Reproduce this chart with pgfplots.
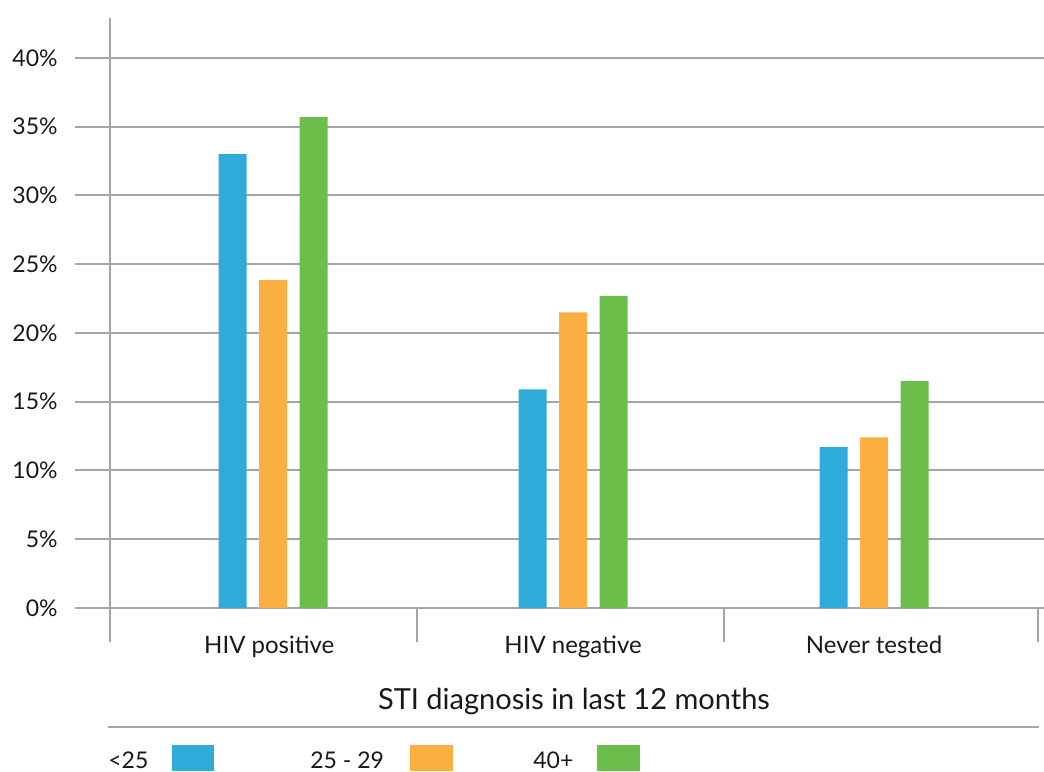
\documentclass[border=0pt]{standalone}
\usepackage{pgfplots}
\pgfplotsset{compat=1.18}
\usepackage{fontspec}
\setmainfont{Lato}

\definecolor{cblue}{RGB}{46,171,216}
\definecolor{corange}{RGB}{251,175,64}
\definecolor{cgreen}{RGB}{108,190,75}
\definecolor{cgrid}{RGB}{165,165,165}
\definecolor{ctext}{RGB}{25,25,25}

\begin{document}
\begin{tikzpicture}[font=\color{ctext}]
% page frame, 1044x771 px at 2 px per pt
\path[use as bounding box] (-55pt,-81.5pt) rectangle (467pt,304pt);

\begin{axis}[
    at={(0pt,0pt)}, anchor=south west,
    width=464pt, height=295pt, scale only axis,
    xmin=-0.5, xmax=2.5,
    ymin=0, ymax=42.909,
    clip=false,
    axis line style={draw=none},
    major tick style={draw=none},
    ybar=6.25pt, bar width=14pt,
    ymajorgrids, grid style={cgrid, line width=1pt},
    ytick={0,5,...,40},
    yticklabel={\pgfmathprintnumber{\tick}\%},
    /pgf/number format/assume math mode=true,
    yticklabel style={anchor=east, inner sep=0pt, xshift=-26pt, font=\fontsize{11.5}{13}\selectfont\color{ctext}},
    xtick={0.015,0.997,1.97},
    xticklabels={HIV positive, HIV negative, Never tested},
    xticklabel style={anchor=base, inner sep=0pt, yshift=-18.5pt, font=\fontsize{12}{14}\selectfont\color{ctext}},
    xlabel={STI diagnosis in last 12 months},
    xlabel style={at={(axis description cs:0.5,0)}, anchor=base, inner sep=0pt, yshift=-50.5pt, font=\fontsize{14.5}{17}\selectfont\color{ctext}},
]
\addplot[draw=none, fill=cblue] coordinates {(0.027,33.0) (0.997,15.9) (1.97,11.7)};
\addplot[draw=none, fill=corange] coordinates {(0.027,23.85) (0.997,21.5) (1.97,12.4)};
\addplot[draw=none, fill=cgreen] coordinates {(0.027,35.7) (0.997,22.7) (1.97,16.5)};
\end{axis}

% grid line stubs outside the axis box
\foreach \v in {0,5,...,40}{
  \draw[cgrid, line width=1pt] (-17.5pt,\v*6.875pt) -- (0pt,\v*6.875pt);
  \draw[cgrid, line width=1pt] (464pt,\v*6.875pt) -- (467pt,\v*6.875pt);
}
% y axis and category dividers
\draw[cgrid, line width=1pt] (0pt,295pt) -- (0pt,-17pt);
\foreach \x in {153.5,307,464}{
  \draw[cgrid, line width=1pt] (\x pt,0pt) -- (\x pt,-17pt);
}
% rule under the title
\draw[cgrid, line width=1pt] (-1pt,-59.5pt) -- (464.5pt,-59.5pt);

% legend
\begin{scope}[every node/.style={anchor=base west, inner sep=0pt, font=\fontsize{11.5}{13}\selectfont\color{ctext}}]
\node at (-1pt,-80pt) {<25};
\fill[cblue] (31pt,-68.5pt) rectangle (52pt,-81.5pt);
\node at (100pt,-80pt) {25 - 29};
\fill[corange] (150pt,-68.5pt) rectangle (171.5pt,-81.5pt);
\node at (211.5pt,-80pt) {40+};
\fill[cgreen] (243.5pt,-68.5pt) rectangle (265pt,-81.5pt);
\end{scope}
\end{tikzpicture}
\end{document}
